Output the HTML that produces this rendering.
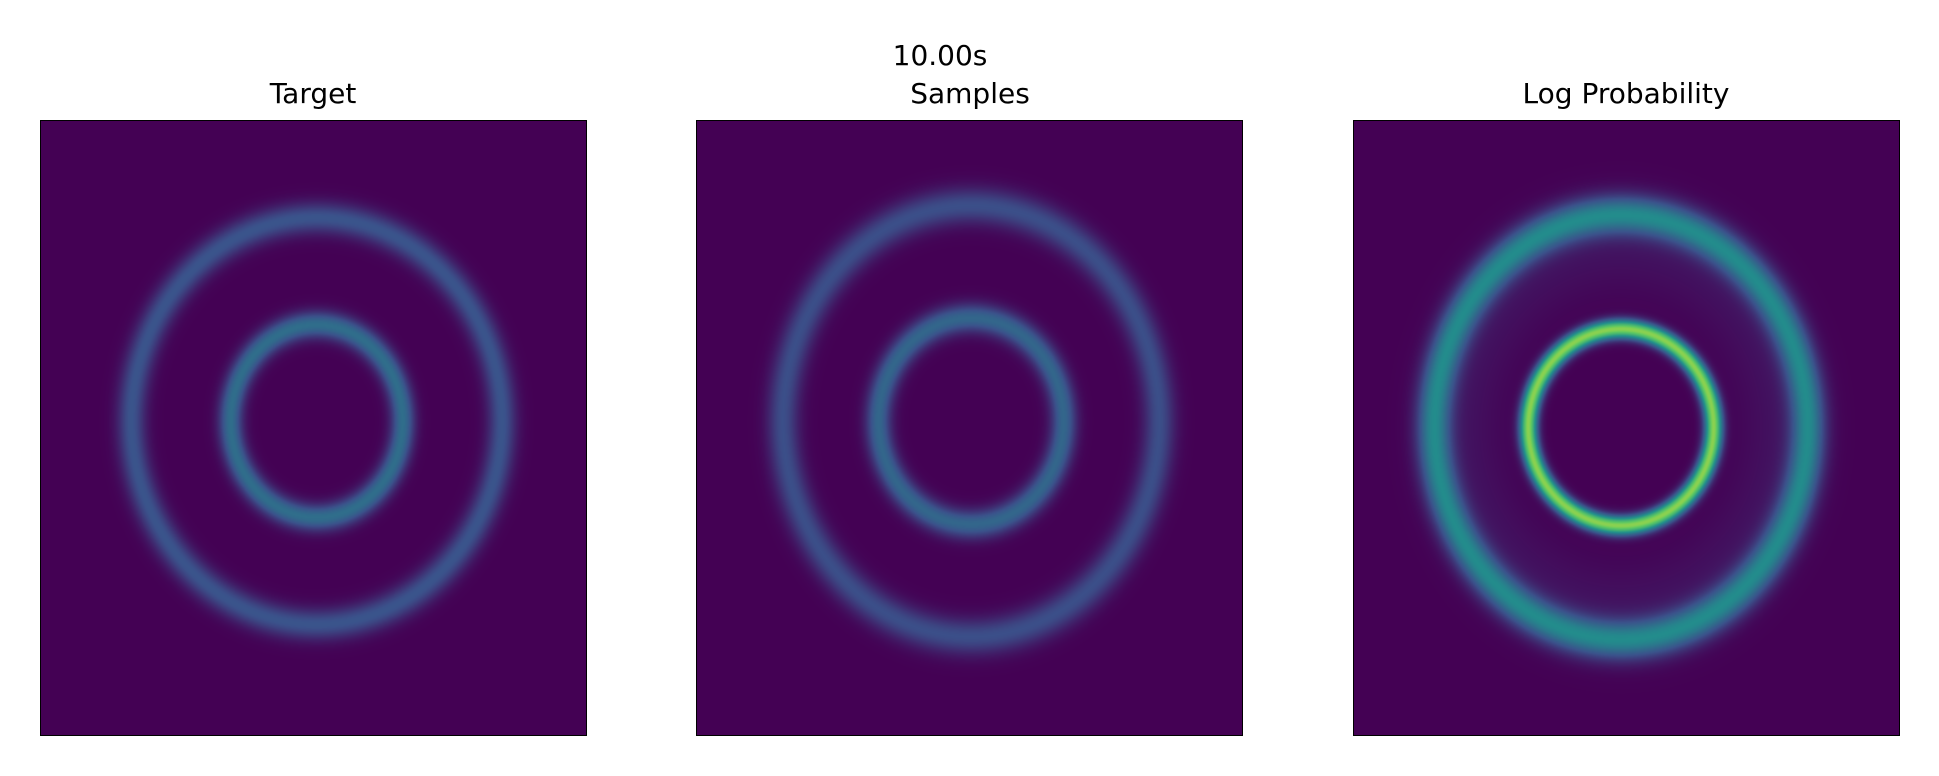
<!DOCTYPE html>
<html><head><meta charset="utf-8"><style>
html,body{margin:0;padding:0;background:#fff;width:1939px;height:776px;overflow:hidden}
.t{position:absolute;color:#000;transform:translateX(-50%);white-space:nowrap;font-family:"DejaVu Sans","Liberation Sans",sans-serif;font-size:28px}
canvas{position:absolute;border:1.5px solid #000;box-sizing:border-box}
</style></head><body>
<div class="t" style="left:940px;top:39px">10.00s</div>
<div class="t" style="left:313px;top:77px">Target</div>
<div class="t" style="left:970px;top:77px">Samples</div>
<div class="t" style="left:1626px;top:77px">Log Probability</div>
<canvas id="c0" width="547" height="616" style="left:40px;top:120px;width:547px;height:616px"></canvas>
<canvas id="c1" width="547" height="616" style="left:696px;top:120px;width:547px;height:616px"></canvas>
<canvas id="c2" width="547" height="616" style="left:1353px;top:120px;width:547px;height:616px"></canvas>
<script>
// ring parameters per panel: [inner, outer]
const centerX = [0.505, 0.502, 0.489];
const centerY = [0.488, 0.488, 0.498];
const innerRx = [0.158, 0.17, 0.17];
const innerRy = [0.157, 0.168, 0.16];
const outerRx = [0.34, 0.345, 0.343];
const outerRy = [0.331, 0.351, 0.346];
const innerAmp = [0.36, 0.33, 0.82];
const outerAmp = [0.26, 0.24, 0.45];
const innerSig = [0.1, 0.1, 0.07];
const outerSig = [0.055, 0.06, 0.065];
const haloAmp = [0, 0, 0.05];

const stops=[[0,[68,1,84]],[0.25,[59,82,139]],[0.5,[33,145,140]],[0.75,[94,201,98]],[1,[253,231,37]]];
function viridis(v){v=Math.max(0,Math.min(1,v));for(let i=1;i<stops.length;i++){if(v<=stops[i][0]){const a=stops[i-1],b=stops[i];const t=(v-a[0])/(b[0]-a[0]);return [0,1,2].map(k=>a[1][k]+(b[1][k]-a[1][k])*t);}}return stops[4][1];}
for(let p=0;p<3;p++){
  const c=document.getElementById('c'+p),ctx=c.getContext('2d');
  const W=c.width,H=c.height,img=ctx.createImageData(W,H);
  for(let y=0;y<H;y++)for(let x=0;x<W;x++){
    const fx=x/W-centerX[p],fy=y/H-centerY[p];
    const ri=Math.hypot(fx/innerRx[p],fy/innerRy[p]);
    const ro=Math.hypot(fx/outerRx[p],fy/outerRy[p]);
    let v=innerAmp[p]*Math.exp(-((ri-1)**2)/(2*innerSig[p]**2))+outerAmp[p]*Math.exp(-((ro-1)**2)/(2*outerSig[p]**2));
    if(haloAmp[p]>0 && ri>1) v+=haloAmp[p]*Math.exp(-((ro-0.85)**2)/(2*0.15**2));
    const col=viridis(v),i=(y*W+x)*4;
    img.data[i]=col[0];img.data[i+1]=col[1];img.data[i+2]=col[2];img.data[i+3]=255;
  }
  ctx.putImageData(img,0,0);
}
</script>
</body></html>
